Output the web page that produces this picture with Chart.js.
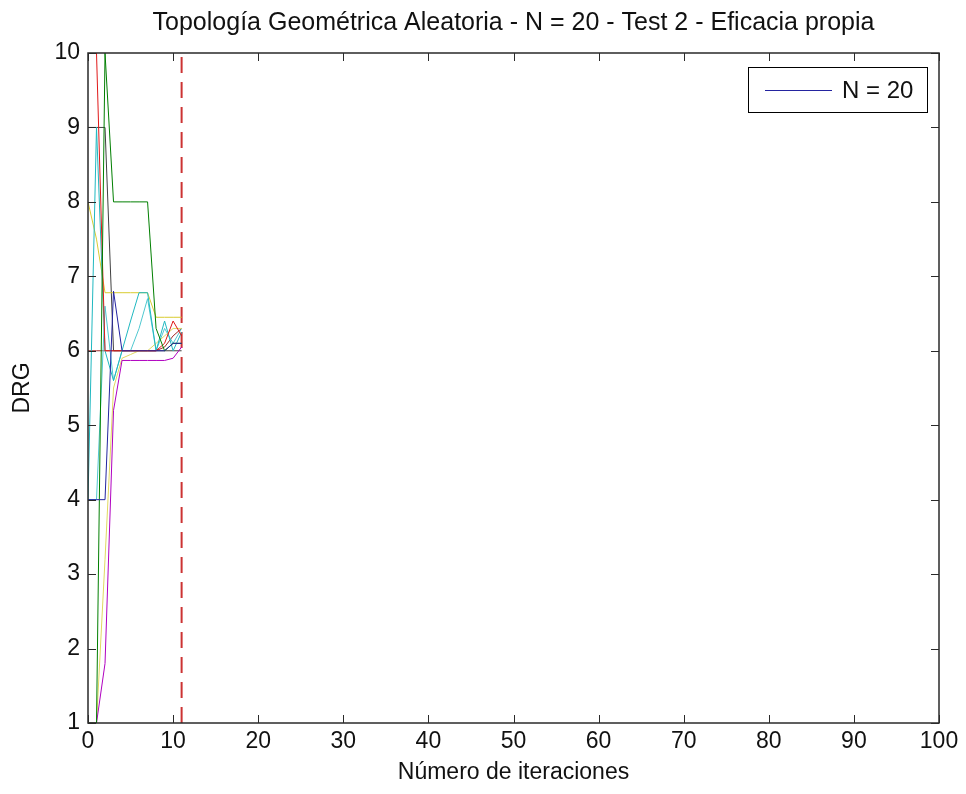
<!DOCTYPE html>
<html>
<head>
<meta charset="utf-8">
<script src="https://cdn.jsdelivr.net/npm/chart.js@4.4.1/dist/chart.umd.min.js"></script>
<style>
  html, body { margin: 0; padding: 0; background: #fff; }
  #wrap { width: 966px; height: 794px; }
</style>
</head>
<body>
<div id="wrap"><canvas id="chart" width="966" height="794"></canvas></div>
<script>
// iteration index for every run
const iterations = [0, 1, 2, 3, 4, 5, 6, 7, 8, 9, 10, 11];

// DRG per iteration, one array per run
const runNavy    = [4, 4, 4, 6.8, 6.0, 6.0, 6.0, 6.0, 6.0, 6.0, 6.1, 6.1];
const runGreen   = [1, 1, 10, 8, 8, 8, 8, 8, 6.3, 6.0, 6.1, 6.1];
const runRed     = [10, 10, 6, 6, 6, 6, 6, 6, 6, 6.1, 6.4, 6.2];
const runCyan    = [4, 9, 6.0, 5.6, 6.0, 6.4, 6.78, 6.78, 6.0, 6.4, 6.0, 6.25];
const runMagenta = [1, 1, 1.8, 5.2, 5.87, 5.87, 5.87, 5.87, 5.87, 5.87, 5.9, 6.05];
const runYellow  = [8, 7.5, 6.78, 6.78, 6.78, 6.78, 6.78, 6.78, 6.45, 6.45, 6.45, 6.45];
const runGray    = [9, 9, 9, 6.0, 6.0, 6.0, 6.0, 6.0, 6.0, 6.0, 6.0, 6.0];
const runYellow2 = [1, 1, 3.2, 5.5, 5.9, 5.95, 6.0, 6.0, 6.1, 6.2, 6.3, 6.3];
const runCyan2   = [4, 4, 6.6, 5.6, 6.0, 6.0, 6.3, 6.7, 6.0, 6.3, 6.1, 6.3];
const runBrown   = [6, 6, 6, 6, 6, 6, 6, 6, 6.0, 6.05, 6.2, 6.3];

// stop iteration marker
const stopIteration = 11;

const xTicks = [0, 10, 20, 30, 40, 50, 60, 70, 80, 90, 100];
const yTicks = [1, 2, 3, 4, 5, 6, 7, 8, 9, 10];

const runs = [
  { values: runNavy, color: '#2424a0' },
  { values: runGreen, color: '#007f00' },
  { values: runRed, color: '#e01818' },
  { values: runCyan, color: '#20b8c0' },
  { values: runMagenta, color: '#b000c0' },
  { values: runYellow, color: '#d8cc30' },
  { values: runGray, color: '#404040' },
  { values: runYellow2, color: '#e0d860' },
  { values: runCyan2, color: '#50c8d0' },
  { values: runBrown, color: '#a02828' }
];

const toPoints = vals => iterations.map((it, i) => ({ x: it, y: vals[i] }));

const datasets = runs.map(r => ({
  data: toPoints(r.values),
  borderColor: r.color,
  borderWidth: 1,
  pointRadius: 0,
  tension: 0
}));

datasets.push({
  data: [{ x: stopIteration, y: yTicks[0] }, { x: stopIteration, y: yTicks[yTicks.length - 1] }],
  borderColor: '#cc3333',
  borderWidth: 2,
  borderDash: [16, 9],
  pointRadius: 0
});

const font = '"Liberation Sans", Arial, sans-serif';

// box round the plot, inward ticks on all sides, and the legend
const framePlugin = {
  id: 'frame',
  afterDatasetsDraw(chart) {
    const { ctx, chartArea: a, scales: { x, y } } = chart;
    ctx.save();
    ctx.strokeStyle = '#2a2a2a';
    ctx.lineWidth = 1.5;
    ctx.strokeRect(a.left, a.top, a.right - a.left, a.bottom - a.top);
    ctx.lineWidth = 1;
    ctx.beginPath();
    xTicks.forEach(v => {
      const px = Math.round(x.getPixelForValue(v)) + 0.5;
      ctx.moveTo(px, a.bottom); ctx.lineTo(px, a.bottom - 8);
      ctx.moveTo(px, a.top); ctx.lineTo(px, a.top + 8);
    });
    yTicks.forEach(v => {
      const py = Math.round(y.getPixelForValue(v)) + 0.5;
      ctx.moveTo(a.left, py); ctx.lineTo(a.left + 8, py);
      ctx.moveTo(a.right, py); ctx.lineTo(a.right - 8, py);
    });
    ctx.stroke();

    // legend box, top right inside the plot
    const bx = 748.5, by = 67.5, bw = 179, bh = 45;
    ctx.fillStyle = '#fff';
    ctx.fillRect(bx, by, bw, bh);
    ctx.strokeStyle = '#000';
    ctx.lineWidth = 1;
    ctx.strokeRect(bx, by, bw, bh);
    ctx.strokeStyle = runs[0].color;
    ctx.beginPath();
    ctx.moveTo(765, 90.5);
    ctx.lineTo(832, 90.5);
    ctx.stroke();
    ctx.fillStyle = '#111';
    ctx.font = '24px ' + font;
    ctx.textBaseline = 'middle';
    ctx.fillText('N = 20', 842, by + bh / 2 + 1);
    ctx.restore();
  }
};

new Chart(document.getElementById('chart'), {
  type: 'line',
  data: { datasets },
  options: {
    responsive: false,
    animation: false,
    events: [],
    layout: { padding: { top: 0, right: 27, left: 0, bottom: 0 } },
    plugins: {
      legend: { display: false },
      tooltip: { enabled: false },
      title: {
        display: true,
        fullSize: false,
        text: 'Topología Geométrica Aleatoria - N = 20 - Test 2 - Eficacia propia',
        color: '#111',
        font: { family: font, size: 25, weight: 'normal' },
        padding: { top: 8, bottom: 15 }
      }
    },
    scales: {
      x: {
        type: 'linear',
        min: 0,
        max: 100,
        afterFit: s => { s.height = 71; },
        afterBuildTicks: s => { s.ticks = xTicks.map(v => ({ value: v })); },
        grid: { display: false, drawTicks: false },
        border: { display: false },
        ticks: { color: '#111', padding: 5, maxRotation: 0, font: { family: font, size: 23 } },
        title: {
          display: true,
          text: 'Número de iteraciones',
          color: '#111',
          font: { family: font, size: 23 },
          padding: { top: 0, bottom: 8 }
        }
      },
      y: {
        type: 'linear',
        min: 1,
        max: 10,
        afterFit: s => { s.width = 88; },
        afterBuildTicks: s => { s.ticks = yTicks.map(v => ({ value: v })); },
        grid: { display: false, drawTicks: false },
        border: { display: false },
        ticks: { color: '#111', padding: 8, font: { family: font, size: 23 } },
        title: {
          display: true,
          text: 'DRG',
          color: '#111',
          font: { family: font, size: 23 },
          padding: { top: 9, bottom: 0 }
        }
      }
    }
  },
  plugins: [framePlugin]
});
</script>
</body>
</html>
